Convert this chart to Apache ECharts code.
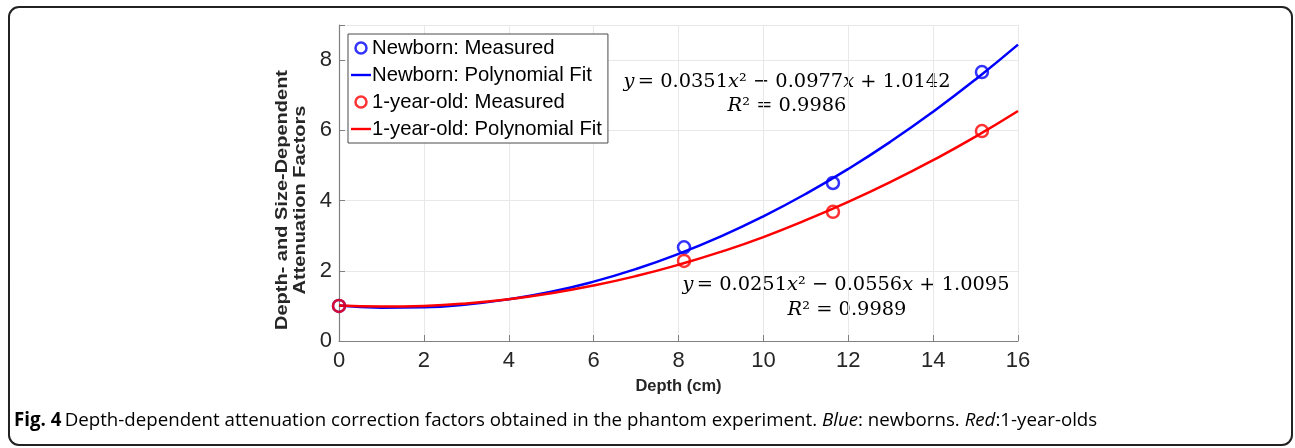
<!DOCTYPE html>
<html>
<head>
<meta charset="utf-8">
<script src="https://cdn.jsdelivr.net/npm/echarts@6/dist/echarts.min.js"></script>
<style>html,body{margin:0;padding:0;background:#fff}#c{width:1295px;height:448px}</style>
</head>
<body>
<div id="c"></div>
<script>
const xTicks = [0, 2, 4, 6, 8, 10, 12, 14, 16];
const yTicks = [0, 2, 4, 6, 8];
const measuredDepth = [0, 8.13, 11.64, 15.15];
const newbornMeasured = [1.0, 2.67, 4.50, 7.66];
const oneYearMeasured = [1.0, 2.28, 3.68, 5.98];
const fitDepth = [0, 1, 2, 3, 4, 5, 6, 7, 8, 9, 10, 11, 12, 13, 14, 15, 16];
const newbornFit = [1.01, 0.95, 0.96, 1.04, 1.19, 1.40, 1.69, 2.05, 2.48, 2.98, 3.55, 4.19, 4.90, 5.68, 6.53, 7.45, 8.44];
const oneYearFit = [1.01, 0.98, 1.00, 1.07, 1.19, 1.36, 1.58, 1.85, 2.17, 2.54, 2.96, 3.44, 3.96, 4.53, 5.15, 5.82, 6.55];
const seriesNames = ['Newborn: Measured', 'Newborn: Polynomial Fit', '1-year-old: Measured', '1-year-old: Polynomial Fit'];

const BLUE = '#0000ff', RED = '#ff0000';
const zip = (xs, ys) => xs.map((x, i) => [x, ys[i]]);
const LINE_ICON = 'path://M0,0H20V2.4H0Z';

const chart = echarts.init(document.getElementById('c'));
const eqFont = 'DejaVu Serif';
function eqRich(color) {
  return {
    n: { fontFamily: eqFont, fontSize: 19.4, color: color },
    i: { fontFamily: eqFont, fontSize: 19.4, fontStyle: 'italic', color: color }
  };
}
chart.setOption({
  animation: false,
  grid: { left: 339, right: 277, top: 25, bottom: 107, containLabel: false },
  xAxis: {
    type: 'value', min: 0, max: 16, interval: 2,
    name: 'Depth (cm)', nameLocation: 'middle', nameGap: 37,
    nameTextStyle: { fontFamily: 'Liberation Sans', fontWeight: 'bold', fontSize: 16.5, color: '#262626' },
    axisLine: { show: true, lineStyle: { color: '#808080', width: 1.2 } },
    axisTick: { show: true, inside: true, length: 6, lineStyle: { color: '#808080' } },
    axisLabel: { fontFamily: 'Liberation Sans', fontSize: 22, color: '#262626', margin: 9 },
    splitLine: { show: true, lineStyle: { color: '#e8e8e8', width: 1 } }
  },
  yAxis: {
    type: 'value', min: 0, max: 9, interval: 2,
    axisLine: { show: true, lineStyle: { color: '#808080', width: 1.2 } },
    axisTick: { show: true, inside: true, length: 6, lineStyle: { color: '#808080' } },
    axisLabel: { fontFamily: 'Liberation Sans', fontSize: 22, color: '#262626', margin: 7,
      formatter: v => (yTicks.indexOf(v) >= 0 ? String(v) : '') },
    splitLine: { show: true, lineStyle: { color: '#e8e8e8', width: 1 } }
  },
  legend: {
    orient: 'vertical', left: 348, top: 34,
    data: [
      { name: seriesNames[0], icon: 'circle', itemStyle: { color: '#fff', borderColor: BLUE, borderWidth: 2.5 } },
      { name: seriesNames[1], icon: LINE_ICON, itemStyle: { color: BLUE, borderWidth: 0 } },
      { name: seriesNames[2], icon: 'circle', itemStyle: { color: '#fff', borderColor: RED, borderWidth: 2.5 } },
      { name: seriesNames[3], icon: LINE_ICON, itemStyle: { color: RED, borderWidth: 0 } }
    ],
    itemWidth: 20, itemHeight: 11, itemGap: 7, padding: [4, 6, 4, 3],
    backgroundColor: '#fff', borderColor: '#4a4a4a', borderWidth: 1, borderRadius: 0,
    textStyle: { fontFamily: 'Liberation Sans', fontSize: 20.3, lineHeight: 20, color: '#000', padding: [0, 0, 0, -4] },
    selectedMode: false
  },
  series: [
    { name: seriesNames[0], type: 'scatter', data: zip(measuredDepth, newbornMeasured), symbol: 'circle', symbolSize: 12,
      itemStyle: { color: 'rgba(255,255,255,0)', borderColor: BLUE, borderWidth: 2.5 }, z: 5 },
    { name: seriesNames[1], type: 'line', data: zip(fitDepth, newbornFit), smooth: true, symbol: 'none', showSymbol: false,
      lineStyle: { color: BLUE, width: 2.5 }, itemStyle: { color: BLUE }, z: 3 },
    { name: seriesNames[2], type: 'scatter', data: zip(measuredDepth, oneYearMeasured), symbol: 'circle', symbolSize: 12,
      itemStyle: { color: 'rgba(255,255,255,0)', borderColor: RED, borderWidth: 2.5 }, z: 6 },
    { name: seriesNames[3], type: 'line', data: zip(fitDepth, oneYearFit), smooth: true, symbol: 'none', showSymbol: false,
      lineStyle: { color: RED, width: 2.5 }, itemStyle: { color: RED }, z: 4 }
  ],
  graphic: [
    { type: 'rect', shape: { x: 9, y: 7, width: 1283, height: 438, r: 10 }, style: { fill: 'none', stroke: '#222', lineWidth: 2 }, silent: true },
    { type: 'text', x: 292, y: 200, rotation: Math.PI / 2, scaleX: 1.25, scaleY: 1,
      style: { text: 'Depth- and Size-Dependent\nAttenuation Factors', fontFamily: 'Liberation Sans', fontWeight: 'bold',
        fontSize: 16, lineHeight: 18, fill: '#262626', align: 'center', verticalAlign: 'middle' } },
    { type: 'text', x: 787, y: 82, style: { text: '{i|y} {n|= 0.0351}{i|x}{n|² − 0.0977}{i|x}{n| + 1.0142}', rich: eqRich(BLUE), align: 'center', verticalAlign: 'middle' } },
    { type: 'text', x: 787, y: 106, style: { text: '{i|R}{n|² = 0.9986}', rich: eqRich(BLUE), align: 'center', verticalAlign: 'middle' } },
    { type: 'text', x: 846, y: 285, style: { text: '{i|y} {n|= 0.0251}{i|x}{n|² − 0.0556}{i|x}{n| + 1.0095}', rich: eqRich(RED), align: 'center', verticalAlign: 'middle' } },
    { type: 'text', x: 847, y: 310, style: { text: '{i|R}{n|² = 0.9989}', rich: eqRich(RED), align: 'center', verticalAlign: 'middle' } },
    { type: 'text', x: 14, y: 421, style: {
      text: '{b|Fig. 4} {n|Depth-dependent attenuation correction factors obtained in the phantom experiment. }{it|Blue}{n|: newborns. }{it|Red}{n|:1-year-olds}',
      verticalAlign: 'middle',
      rich: {
        b: { fontFamily: 'Open Sans', fontWeight: 'bold', fontSize: 18.7, color: '#222' },
        n: { fontFamily: 'Open Sans', fontSize: 18.7, color: '#222' },
        it: { fontFamily: 'Open Sans', fontStyle: 'italic', fontSize: 18.7, color: '#222' }
      } } }
  ]
});
</script>
</body>
</html>
